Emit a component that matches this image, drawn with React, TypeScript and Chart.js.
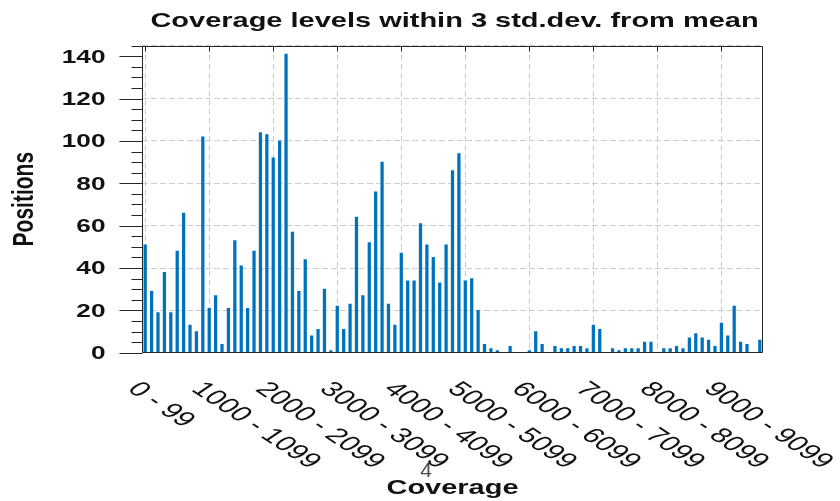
import React, { useEffect, useRef } from 'react';
import { Chart, registerables } from 'chart.js';

Chart.register(...registerables);

const categories: string[] = [
  '0 - 99', '100 - 199', '200 - 299', '300 - 399', '400 - 499', '500 - 599', '600 - 699', '700 - 799', '800 - 899', '900 - 999',
  '1000 - 1099', '1100 - 1199', '1200 - 1299', '1300 - 1399', '1400 - 1499', '1500 - 1599', '1600 - 1699', '1700 - 1799', '1800 - 1899', '1900 - 1999',
  '2000 - 2099', '2100 - 2199', '2200 - 2299', '2300 - 2399', '2400 - 2499', '2500 - 2599', '2600 - 2699', '2700 - 2799', '2800 - 2899', '2900 - 2999',
  '3000 - 3099', '3100 - 3199', '3200 - 3299', '3300 - 3399', '3400 - 3499', '3500 - 3599', '3600 - 3699', '3700 - 3799', '3800 - 3899', '3900 - 3999',
  '4000 - 4099', '4100 - 4199', '4200 - 4299', '4300 - 4399', '4400 - 4499', '4500 - 4599', '4600 - 4699', '4700 - 4799', '4800 - 4899', '4900 - 4999',
  '5000 - 5099', '5100 - 5199', '5200 - 5299', '5300 - 5399', '5400 - 5499', '5500 - 5599', '5600 - 5699', '5700 - 5799', '5800 - 5899', '5900 - 5999',
  '6000 - 6099', '6100 - 6199', '6200 - 6299', '6300 - 6399', '6400 - 6499', '6500 - 6599', '6600 - 6699', '6700 - 6799', '6800 - 6899', '6900 - 6999',
  '7000 - 7099', '7100 - 7199', '7200 - 7299', '7300 - 7399', '7400 - 7499', '7500 - 7599', '7600 - 7699', '7700 - 7799', '7800 - 7899', '7900 - 7999',
  '8000 - 8099', '8100 - 8199', '8200 - 8299', '8300 - 8399', '8400 - 8499', '8500 - 8599', '8600 - 8699', '8700 - 8799', '8800 - 8899', '8900 - 8999',
  '9000 - 9099', '9100 - 9199', '9200 - 9299', '9300 - 9399', '9400 - 9499', '9500 - 9599', '9600 - 9699',
];

const positions: number[] = [
  51, 29, 19, 38, 19, 48, 66, 13, 10, 102,
  21, 27, 4, 21, 53, 41, 21, 48, 104, 103,
  92, 100, 141, 57, 29, 44, 8, 11, 30, 1,
  22, 11, 23, 64, 27, 52, 76, 90, 23, 13,
  47, 34, 34, 61, 51, 45, 33, 51, 86, 94,
  34, 35, 20, 4, 2, 1, 0, 3, 0, 0,
  1, 10, 4, 0, 3, 2, 2, 3, 3, 2,
  13, 11, 0, 2, 1, 2, 2, 2, 5, 5,
  0, 2, 2, 3, 2, 7, 9, 7, 6, 3,
  14, 8, 22, 5, 4, 0, 6,
];

const xTickLabels: string[] = [
  '0 - 99', '1000 - 1099', '2000 - 2099', '3000 - 3099', '4000 - 4099',
  '5000 - 5099', '6000 - 6099', '7000 - 7099', '8000 - 8099', '9000 - 9099',
];
const yTickLabels: number[] = [0, 20, 40, 60, 80, 100, 120, 140];

const TITLE = 'Coverage levels within 3 std.dev. from mean';
const X_TITLE = 'Coverage';
const Y_TITLE = 'Positions';
const STRAY = '4';

const S = 1.38;
const SX_LABEL = 1.5;
const FAMILY = '"Liberation Sans", Arial, sans-serif';

function sText(
  ctx: CanvasRenderingContext2D, text: string, x: number, y: number, font: string,
  align: CanvasTextAlign, baseline: CanvasTextBaseline, color: string, rot = 0, s = S,
) {
  ctx.save();
  ctx.translate(x, y);
  ctx.scale(s, 1);
  if (rot) ctx.rotate(rot);
  ctx.font = font;
  ctx.textAlign = align;
  ctx.textBaseline = baseline;
  ctx.fillStyle = color;
  ctx.fillText(text, 0, 0);
  ctx.restore();
}

const decor = {
  id: 'decor',
  afterDraw(chart: any) {
    const ctx: CanvasRenderingContext2D = chart.ctx;
    const { left, right, top, bottom } = chart.chartArea;
    const xs = chart.scales.x;
    const ys = chart.scales.y;
    const axisColor = '#262626';

    ctx.save();
    ctx.strokeStyle = axisColor;
    ctx.lineWidth = 1;
    const L = Math.round(left) + 0.5;
    const R = Math.round(right) - 0.5;
    const T = Math.round(top) + 0.5;
    const B = Math.round(bottom) - 0.5;
    ctx.beginPath();
    ctx.rect(L, T, R - L, B - T);
    ctx.stroke();

    // y tick marks (major every 20, minor every 5)
    ctx.beginPath();
    for (let v = 0; v <= 145; v += 5) {
      const py = Math.round(ys.getPixelForValue(v)) + 0.5;
      const len = v % 20 === 0 ? 23 : 11;
      ctx.moveTo(L - len, py);
      ctx.lineTo(L, py);
    }
    // top ticks at the labelled categories
    for (let k = 0; k < xTickLabels.length; k++) {
      const px = Math.round(xs.getPixelForValue(k * 10)) + 0.5;
      ctx.moveTo(px, T);
      ctx.lineTo(px, T + 5);
    }
    ctx.stroke();
    ctx.restore();

    // y tick labels
    yTickLabels.forEach((v) => {
      const py = ys.getPixelForValue(v);
      sText(ctx, String(v), L - 37, py + 1, `bold 19px ${FAMILY}`, 'right', 'middle', '#111');
    });

    // x tick labels (rotated down-right)
    xTickLabels.forEach((lab, k) => {
      const px = xs.getPixelForValue(k * 10);
      ctx.save();
      ctx.translate(px - 19, 390);
      ctx.scale(SX_LABEL, 1);
      ctx.rotate(Math.PI / 4);
      ctx.font = `21px ${FAMILY}`;
      ctx.textAlign = 'left';
      ctx.textBaseline = 'alphabetic';
      ctx.fillStyle = '#111';
      ctx.fillText(lab, 0, 0);
      ctx.restore();
    });

    const cx = (left + right) / 2;
    const cy = (top + bottom) / 2;
    sText(ctx, TITLE, cx + 2, 27, `bold 21px ${FAMILY}`, 'center', 'alphabetic', '#111');
    sText(ctx, X_TITLE, cx, 494, `bold 21px ${FAMILY}`, 'center', 'alphabetic', '#111');
    sText(ctx, Y_TITLE, 25, cy, `bold 21px ${FAMILY}`, 'center', 'middle', '#111', -Math.PI / 2);
    sText(ctx, STRAY, 426, 476.5, `21px ${FAMILY}`, 'center', 'alphabetic', '#4a4a4a', 0, 1);
  },
};

export default function App() {
  const ref = useRef<HTMLCanvasElement | null>(null);

  useEffect(() => {
    if (!ref.current) return;
    const chart = new Chart(ref.current, {
      type: 'bar',
      data: {
        labels: categories,
        datasets: [
          {
            label: Y_TITLE,
            data: positions,
            backgroundColor: '#0072BD',
            borderWidth: 0,
            barThickness: 2.6,
          },
        ],
      },
      options: {
        responsive: true,
        maintainAspectRatio: false,
        animation: false,
        layout: { padding: { top: 45.7, right: 77, bottom: 0, left: 0 } },
        plugins: {
          legend: { display: false },
          tooltip: { enabled: false },
          title: { display: false },
        },
        scales: {
          x: {
            type: 'category',
            offset: true,
            ticks: { display: false, autoSkip: false },
            grid: {
              offset: false,
              drawTicks: false,
              lineWidth: 1,
              color: (c: any) => (c.index % 10 === 0 ? '#cdcdcd' : 'rgba(0,0,0,0)'),
            },
            border: { display: false, dash: [6, 3] },
            afterFit: (scale: any) => {
              scale.height = 501 - 352.7;
            },
          },
          y: {
            min: 0,
            max: 145,
            ticks: { display: false, stepSize: 20 },
            grid: { drawTicks: false, lineWidth: 1, color: '#cdcdcd' },
            border: { display: false, dash: [6, 3] },
            afterFit: (scale: any) => {
              scale.width = 142;
            },
          },
        },
      },
      plugins: [decor],
    });
    return () => chart.destroy();
  }, []);

  return (
    <div style={{ position: 'fixed', left: 0, top: 0, width: 840, height: 501, background: '#fff' }}>
      <canvas ref={ref} />
    </div>
  );
}
